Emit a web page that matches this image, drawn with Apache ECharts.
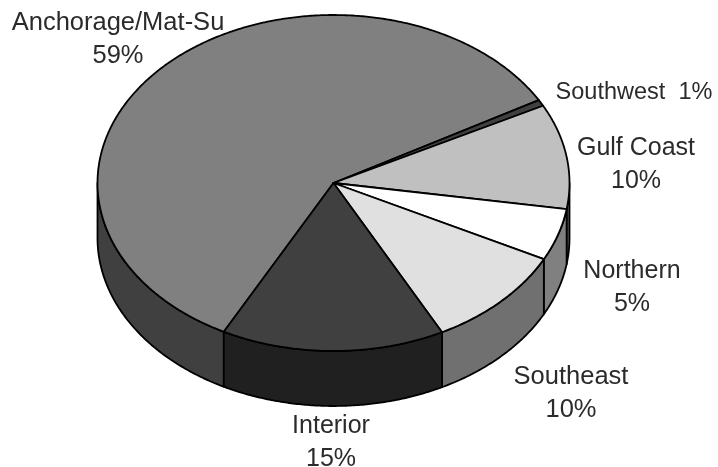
<!DOCTYPE html>
<html><head><meta charset="utf-8">
<style>html,body{margin:0;padding:0;background:#fff}#c{width:718px;height:467px}</style>
<script src="https://cdn.jsdelivr.net/npm/echarts@6/dist/echarts.min.js"></script>
</head><body><div id="c"></div>
<script>
const regions = ['Anchorage/Mat-Su','Southwest','Gulf Coast','Northern','Southeast','Interior'];
const shares = [59.1,0.6,10.1,5,9.9,15.3];
const labelLines = [['Anchorage/Mat-Su','59%'],['Southwest  1%'],['Gulf Coast','10%'],['Northern','5%'],['Southeast','10%'],['Interior','15%']];
const topColors = ['#808080','#404040','#c0c0c0','#ffffff','#e0e0e0','#404040'];
const sideColors = ['#404040','#202020','#606060','#808080','#707070','#202020'];
const labelCenters = [[118,23],[634,93],[636,148],[632,271],[571,377],[331,426]];
const labelFontPx = [25.5,23.5,25,25,25.5,25];

const cx=333.5, cy=183, rx=236, ry=168, depth=55, startDeg=117.7, lineH=33;
const total = shares.reduce((a,b)=>a+b,0);
const startAngles = []; { let a=startDeg; shares.forEach(v=>{startAngles.push(a); a+=v/total*360;}); }
const rad=d=>d*Math.PI/180;
const pt=(d,dy)=>[cx+rx*Math.cos(rad(d)), cy+ry*Math.sin(rad(d))+(dy||0)];
function arc(a,b,dy){const n=Math.max(2,Math.ceil(Math.abs(b-a)*2));const o=[];for(let i=0;i<=n;i++)o.push(pt(a+(b-a)*i/n,dy));return o;}
const lineStyle=(api,fill)=>({fill,stroke:'#000',lineWidth:1.8,lineJoin:'round'});

function frontRange(a,b){
  for(const off of [0,360]){const s=Math.max(a,off),e=Math.min(b,off+180);if(e>s)return [s,e];}
  return null;
}
const chart=echarts.init(document.getElementById('c'),null,{renderer:'canvas'});
chart.setOption({
  animation:false,
  grid:{left:0,right:0,top:0,bottom:0},
  xAxis:{type:'value',min:0,max:718,show:false},
  yAxis:{type:'value',min:0,max:467,inverse:true,show:false},
  series:[
    {type:'custom',coordinateSystem:'cartesian2d',silent:true,z:1,
     data:regions.map((n,i)=>({name:n,value:[shares[i],i]})),
     renderItem(p,api){
       const i=api.value(1),a=startAngles[i],b=a+api.value(0)/total*360,r=frontRange(a,b);
       if(!r)return {type:'group',children:[]};
       const pts=arc(r[0],r[1],0).concat(arc(r[1],r[0],depth)).map(q=>api.coord(q));
       return {type:'polygon',shape:{points:pts},style:lineStyle(api,sideColors[i])};
     }},
    {type:'custom',coordinateSystem:'cartesian2d',silent:true,z:2,
     data:regions.map((n,i)=>({name:n,value:[shares[i],i]})),
     renderItem(p,api){
       const i=api.value(1),a=startAngles[i],b=a+api.value(0)/total*360;
       const pts=[[cx,cy]].concat(arc(a,b,0)).map(q=>api.coord(q));
       return {type:'polygon',shape:{points:pts},style:lineStyle(api,topColors[i])};
     }},
    {type:'custom',coordinateSystem:'cartesian2d',silent:true,z:3,
     data:regions.map((n,i)=>({name:n,value:[shares[i],i]})),
     renderItem(p,api){
       const i=api.value(1),c=api.coord(labelCenters[i]);
       return {type:'group',children:labelLines[i].map((t,k)=>({type:'text',
         style:{text:t,x:c[0],y:c[1]+k*lineH,align:'center',verticalAlign:'middle',
                font:labelFontPx[i]+'px "Liberation Sans", Arial, sans-serif',fill:'#2b2b2b'}}))};
     }}
  ]
});
</script></body></html>
